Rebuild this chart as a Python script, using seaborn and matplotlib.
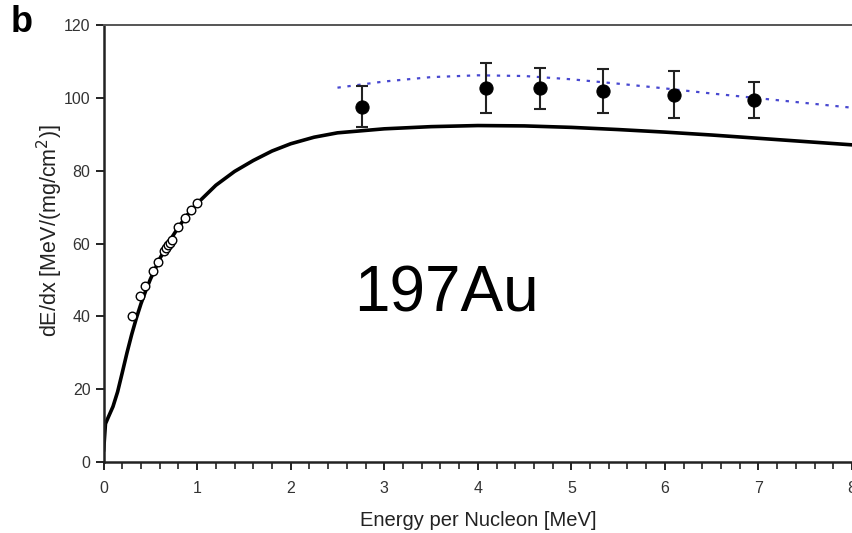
import numpy as np
import pandas as pd
import matplotlib
matplotlib.use("Agg")
import matplotlib.pyplot as plt
import seaborn as sns
from matplotlib.ticker import MultipleLocator

# Theory curve (solid black)
curve_x = [0.0, 0.02, 0.05, 0.1, 0.15, 0.2, 0.25, 0.3, 0.35, 0.4, 0.45, 0.5, 0.6, 0.7, 0.8, 0.9, 1.0,
           1.2, 1.4, 1.6, 1.8, 2.0, 2.25, 2.5, 3.0, 3.5, 4.0, 4.5, 5.0, 5.5, 6.0, 6.5, 7.0, 7.5, 8.0]
curve_y = [3.0, 10.5, 12.3, 15.2, 19.3, 24.6, 30.0, 35.0, 39.5, 43.5, 47.0, 50.2, 55.8, 60.5, 64.5, 68.0, 71.0,
           76.0, 79.8, 82.8, 85.4, 87.4, 89.2, 90.4, 91.5, 92.1, 92.4, 92.3, 91.9, 91.3, 90.6, 89.8, 88.9, 88.0, 87.1]

# Fit curve (blue dotted)
fit_x = [2.5, 3.0, 3.5, 4.0, 4.5, 5.0, 5.5, 6.0, 6.5, 7.0, 7.5, 8.0]
fit_y = [102.8, 104.5, 105.7, 106.2, 106.0, 105.1, 103.9, 102.6, 101.2, 99.9, 98.6, 97.3]

# Measured data (filled points with error bars)
meas_x = [2.76, 4.09, 4.66, 5.34, 6.10, 6.95]
meas_y = [97.6, 102.7, 102.6, 101.9, 100.9, 99.4]
meas_err = [5.6, 6.8, 5.6, 6.0, 6.5, 5.0]

# Literature data (open circles)
lit_x = [0.30, 0.39, 0.44, 0.53, 0.58, 0.65, 0.67, 0.69, 0.71, 0.73, 0.80, 0.87, 0.93, 1.00]
lit_y = [40.0, 45.5, 48.2, 52.5, 55.0, 58.0, 58.8, 59.6, 60.2, 61.0, 64.5, 67.0, 69.2, 71.0]

x_ticks = [0, 1, 2, 3, 4, 5, 6, 7, 8]
y_ticks = [0, 20, 40, 60, 80, 100, 120]

sns.set_style("white")
plt.rcParams['font.family'] = ['Liberation Sans', 'DejaVu Sans']

fig = plt.figure(figsize=(8.52, 5.33), dpi=100)
ax = fig.add_axes([0.1216, 0.1332, 0.8784, 0.8198])

df_curve = pd.DataFrame({"x": curve_x, "y": curve_y})
df_fit = pd.DataFrame({"x": fit_x, "y": fit_y})
df_meas = pd.DataFrame({"x": meas_x, "y": meas_y})
df_lit = pd.DataFrame({"x": lit_x, "y": lit_y})

sns.lineplot(data=df_curve, x="x", y="y", ax=ax, color="black", lw=2.6, sort=True, zorder=2)
sns.lineplot(data=df_fit, x="x", y="y", ax=ax, color="#4848d0", lw=1.6,
             linestyle=(0, (1.5, 3.0)), zorder=2)
ax.errorbar(meas_x, meas_y, yerr=meas_err, fmt="none", ecolor="#222222",
            elinewidth=1.5, capsize=4, capthick=1.5, zorder=3)
sns.scatterplot(data=df_meas, x="x", y="y", ax=ax, color="black", s=90,
                edgecolor="black", zorder=4)
sns.scatterplot(data=df_lit, x="x", y="y", ax=ax, facecolor="white", s=38,
                edgecolor="black", linewidth=1.0, zorder=4)

ax.set_xlim(0, 8.0)
ax.set_ylim(0, 120)
ax.set_xticks(x_ticks)
ax.set_yticks(y_ticks)
ax.xaxis.set_minor_locator(MultipleLocator(0.2))

for side in ["left", "bottom", "top"]:
    ax.spines[side].set_visible(True)
    ax.spines[side].set_color("#222222")
    ax.spines[side].set_linewidth(1.8)
ax.spines["top"].set_color("#555555")
ax.spines["top"].set_linewidth(1.4)
ax.spines["right"].set_visible(False)

ax.tick_params(axis="x", which="major", direction="out", length=6, width=1.4,
               color="#222222", pad=8, labelsize=11.5, labelcolor="#333333", bottom=True)
ax.tick_params(axis="x", which="minor", direction="out", length=5, width=1.2,
               color="#222222", bottom=True)
ax.tick_params(axis="y", which="major", direction="out", length=6, width=1.4,
               color="#222222", pad=3.5, labelsize=11.5, labelcolor="#333333", left=True)

ax.set_xlabel("Energy per Nucleon [MeV]", fontsize=14.5, color="#222222")
ax.set_ylabel("dE/dx [MeV/(mg/cm$^2$)]", fontsize=15.5, color="#222222")
ax.xaxis.set_label_coords(0.5, -0.112)
ax.yaxis.set_label_coords(-0.052, 0.53)

ax.text(3.66, 41.3, "197Au", fontsize=46, ha="center", va="baseline", color="black")

fig.text(0.012, 0.958, "b", fontsize=26, fontweight="bold", ha="left", va="center", color="black")

fig.savefig("out.png", dpi=100)
